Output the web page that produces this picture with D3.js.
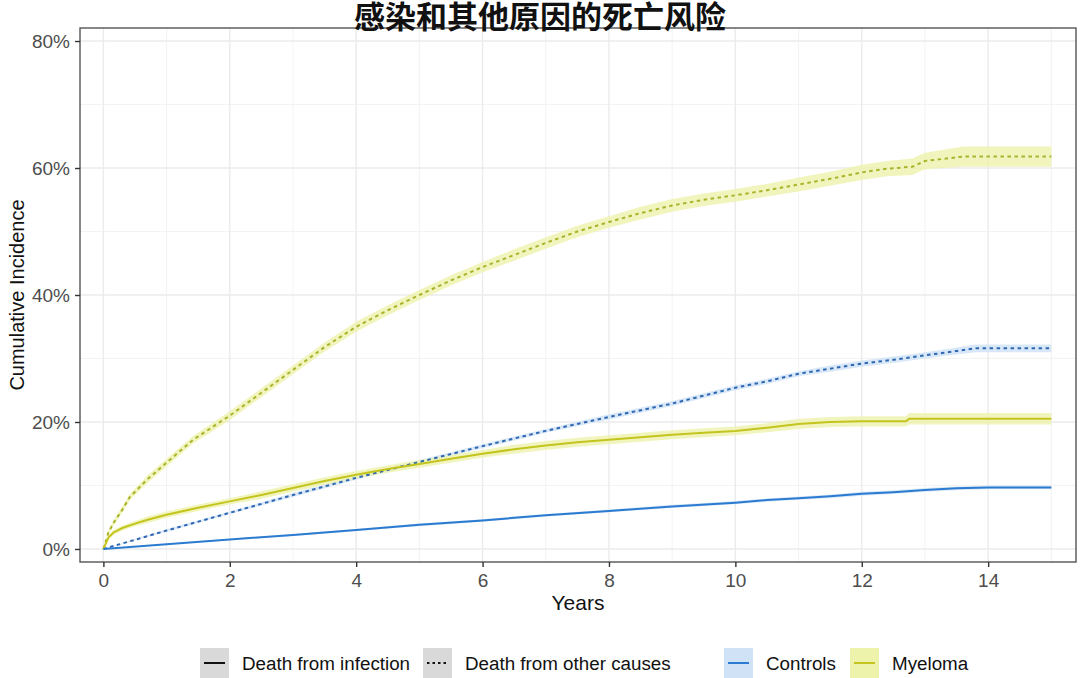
<!DOCTYPE html>
<html><head><meta charset="utf-8">
<script src="https://cdn.jsdelivr.net/npm/d3@7"></script>
<style>body{margin:0;background:#fff}svg{display:block}</style>
</head><body>
<svg id="c" width="1080" height="678"></svg>
<script>
const title = "感染和其他原因的死亡风险";
const xTicks = [0, 2, 4, 6, 8, 10, 12, 14];
const yTicks = [0, 20, 40, 60, 80];
const xTitle = "Years", yTitle = "Cumulative Incidence";
const typeLabels = ["Death from infection", "Death from other causes"];
const groupLabels = ["Controls", "Myeloma"];

// Myeloma, death from other causes
const myeOtherT = [0,0.08,0.16,0.3,0.42,0.7,1,1.42,2,2.5,3,3.5,4,4.5,5,5.5,6,6.5,7,7.5,8,8.5,9,9.5,10,10.5,11,11.5,12,12.4,12.8,13.0,13.6,15];
const myeOtherV = [0,2.6,4.1,6.2,8.2,11.0,13.6,17.2,21.0,24.6,28.2,31.8,35.0,37.6,40.0,42.3,44.4,46.3,48.2,50.0,51.5,52.9,54.1,55.0,55.7,56.5,57.4,58.3,59.3,59.9,60.2,61.1,61.8,61.8];
const myeOtherCI = [0,0.3,0.4,0.5,0.5,0.6,0.6,0.6,0.7,0.7,0.7,0.7,0.8,0.8,0.8,0.8,0.8,0.9,0.9,0.9,0.9,1.0,1.0,1.0,1.0,1.0,1.1,1.1,1.2,1.2,1.3,1.3,1.6,1.6];
// Controls, death from other causes
const conOtherT = [0,1,2,3,4,5,6,7,8,9,10,10.5,11,11.5,12,12.5,13,13.3,13.8,15];
const conOtherV = [0,2.9,5.7,8.5,11.2,13.7,16.2,18.6,20.8,22.9,25.4,26.4,27.6,28.4,29.2,29.8,30.5,30.9,31.6,31.6];
const conOtherCI = [0,0.2,0.2,0.3,0.3,0.3,0.3,0.3,0.4,0.4,0.4,0.4,0.4,0.5,0.5,0.5,0.5,0.5,0.6,0.6];
// Myeloma, death from infection
const myeInfT = [0,0.08,0.16,0.3,0.5,0.7,1,1.5,2,2.5,3,3.5,4,4.5,5,5.5,6,6.5,7,7.5,8,8.5,9,9.5,10,10.5,11,11.5,12,12.7,12.75,15];
const myeInfV = [0,1.8,2.6,3.3,4.0,4.6,5.4,6.5,7.5,8.5,9.6,10.7,11.7,12.6,13.4,14.2,15.0,15.7,16.3,16.8,17.2,17.6,18.0,18.3,18.6,19.1,19.7,20.0,20.1,20.1,20.5,20.5];
const myeInfCI = [0,0.3,0.4,0.4,0.4,0.5,0.5,0.5,0.5,0.6,0.6,0.6,0.6,0.6,0.6,0.6,0.6,0.7,0.7,0.7,0.7,0.7,0.7,0.7,0.7,0.7,0.8,0.8,0.8,0.8,0.9,0.9];
// Controls, death from infection
const conInfT = [0,1,2,3,4,5,6,7,8,9,10,10.5,11,11.5,12,12.5,13,13.5,14,15];
const conInfV = [0,0.75,1.5,2.2,3.0,3.8,4.5,5.3,6.0,6.7,7.3,7.7,8.0,8.3,8.7,8.95,9.3,9.55,9.7,9.7];
const conInfCI = [0,0.1,0.1,0.15,0.15,0.2,0.2,0.2,0.2,0.25,0.25,0.25,0.25,0.3,0.3,0.3,0.3,0.3,0.3,0.3];

const colors = {Controls: "#2b7bd0", Myeloma: "#c4c41e"};
const dotColors = {Controls: "#2f68b0", Myeloma: "#aab32c"};
const fills = {Controls: "#cfe2f6", Myeloma: "#eef3ac"};

const series = [
  {g:"Myeloma", type:1, t:myeOtherT, v:myeOtherV, ci:myeOtherCI},
  {g:"Controls", type:1, t:conOtherT, v:conOtherV, ci:conOtherCI},
  {g:"Myeloma", type:0, t:myeInfT, v:myeInfV, ci:myeInfCI},
  {g:"Controls", type:0, t:conInfT, v:conInfV, ci:conInfCI}
];

const svg = d3.select("#c");
const L = 80, R = 1076, T = 28, B = 562;
const x = d3.scaleLinear().domain([-0.37, 15.39]).range([L, R]);
const y = d3.scaleLinear().domain([-2.05, 82.05]).range([B, T]);

// grid
const g = svg.append("g");
const minorX = d3.range(1, 16, 2), minorY = [10, 30, 50, 70];
g.selectAll(".mx").data(minorX).join("line").attr("x1", d=>x(d)).attr("x2", d=>x(d)).attr("y1", T).attr("y2", B).attr("stroke", "#f0f0f0").attr("stroke-width", 0.8);
g.selectAll(".my").data(minorY).join("line").attr("y1", d=>y(d)).attr("y2", d=>y(d)).attr("x1", L).attr("x2", R).attr("stroke", "#f0f0f0").attr("stroke-width", 0.8);
g.selectAll(".gx").data(xTicks).join("line").attr("x1", d=>x(d)).attr("x2", d=>x(d)).attr("y1", T).attr("y2", B).attr("stroke", "#ebebeb").attr("stroke-width", 1.4);
g.selectAll(".gy").data(yTicks).join("line").attr("y1", d=>y(d)).attr("y2", d=>y(d)).attr("x1", L).attr("x2", R).attr("stroke", "#ebebeb").attr("stroke-width", 1.4);

// ribbons
series.forEach(s => {
  const pts = s.t.map((t, i) => ({t, v: s.v[i], c: s.ci[i]}));
  const area = d3.area().x(d => x(d.t)).y0(d => y(Math.max(0, d.v - d.c))).y1(d => y(d.v + d.c));
  svg.append("path").datum(pts).attr("d", area).attr("fill", fills[s.g]).attr("opacity", 0.8);
});
// lines
series.forEach(s => {
  const pts = s.t.map((t, i) => ({t, v: s.v[i]}));
  const line = d3.line().x(d => x(d.t)).y(d => y(d.v));
  const p = svg.append("path").datum(pts).attr("d", line).attr("fill", "none")
    .attr("stroke", s.type ? dotColors[s.g] : colors[s.g]).attr("stroke-width", 2);
  if (s.type) p.attr("stroke-dasharray", "3.5,3.5");
});

// panel border
svg.append("rect").attr("x", L).attr("y", T).attr("width", R - L).attr("height", B - T)
  .attr("fill", "none").attr("stroke", "#555").attr("stroke-width", 1.4);

// axes
const ax = svg.append("g").attr("transform", `translate(0,${B})`)
  .call(d3.axisBottom(x).tickValues(xTicks).tickSize(5).tickPadding(7).tickFormat(d3.format("d")));
const ay = svg.append("g").attr("transform", `translate(${L},0)`)
  .call(d3.axisLeft(y).tickValues(yTicks).tickSize(5).tickPadding(5).tickFormat(d => d + "%"));
[ax, ay].forEach(a => {
  a.select(".domain").remove();
  a.selectAll(".tick line").attr("stroke", "#333").attr("stroke-width", 1.4);
  a.selectAll(".tick text").attr("fill", "#4d4d4d").style("font-family", "Liberation Sans, Arial, sans-serif").style("font-size", "19px");
});

// titles
svg.append("text").attr("x", 540).attr("y", 28).attr("text-anchor", "middle")
  .style("font-family", "Noto Sans CJK SC").style("font-weight", "700").style("font-size", "31px").attr("fill", "#111").text(title);
svg.append("text").attr("x", (L + R) / 2).attr("y", 610).attr("text-anchor", "middle")
  .style("font-family", "Liberation Sans, Arial, sans-serif").style("font-size", "21px").attr("fill", "#111").text(xTitle);
svg.append("text").attr("transform", `translate(24,${(T + B) / 2}) rotate(-90)`).attr("text-anchor", "middle")
  .style("font-family", "Liberation Sans, Arial, sans-serif").style("font-size", "20px").attr("fill", "#111").text(yTitle);

// legend
const legY = 663, keyW = 29, keyTop = 648, keyH = 36;
const legItems = [
  {x: 200, label: typeLabels[0], fill: "#d9d9d9", stroke: "#111", dash: null},
  {x: 423, label: typeLabels[1], fill: "#d9d9d9", stroke: "#111", dash: "2.5,3"},
  {x: 724, label: groupLabels[0], fill: fills.Controls, stroke: colors.Controls, dash: null},
  {x: 850, label: groupLabels[1], fill: fills.Myeloma, stroke: colors.Myeloma, dash: null}
];
const lg = svg.append("g");
legItems.forEach(it => {
  lg.append("rect").attr("x", it.x).attr("y", keyTop).attr("width", keyW).attr("height", keyH).attr("fill", it.fill);
  const l = lg.append("line").attr("x1", it.x + 4).attr("x2", it.x + keyW - 4).attr("y1", legY).attr("y2", legY)
    .attr("stroke", it.stroke).attr("stroke-width", 2);
  if (it.dash) l.attr("stroke-dasharray", it.dash);
  lg.append("text").attr("x", it.x + keyW + 13).attr("y", legY).attr("dy", "0.35em")
    .style("font-family", "Liberation Sans, Arial, sans-serif").style("font-size", "18.8px").attr("fill", "#111").text(it.label);
});
</script>
</body></html>
